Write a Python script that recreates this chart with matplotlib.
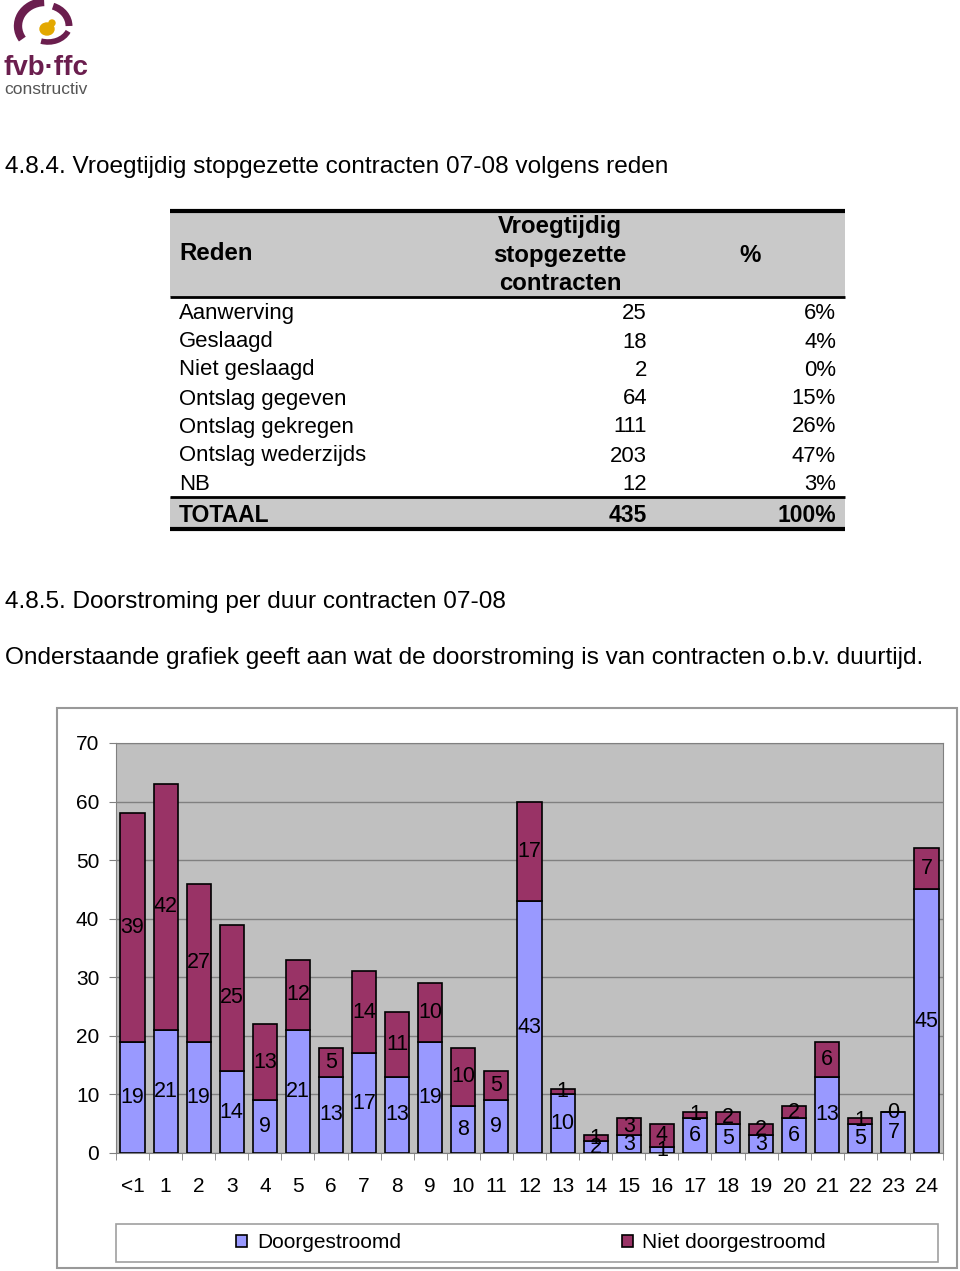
import matplotlib
matplotlib.use("Agg")
import matplotlib.pyplot as plt
from matplotlib.patches import Rectangle, Arc, Ellipse
from matplotlib.lines import Line2D
import numpy as np

plt.rcParams['font.family'] = ['Liberation Sans', 'DejaVu Sans']

# ---------------- data ----------------
table_reasons = ["Aanwerving", "Geslaagd", "Niet geslaagd", "Ontslag gegeven",
                 "Ontslag gekregen", "Ontslag wederzijds", "NB"]
table_counts = [25, 18, 2, 64, 111, 203, 12]
table_pcts = ["6%", "4%", "0%", "15%", "26%", "47%", "3%"]
table_total = 435
table_total_pct = "100%"

categories = ["<1", "1", "2", "3", "4", "5", "6", "7", "8", "9", "10", "11", "12",
              "13", "14", "15", "16", "17", "18", "19", "20", "21", "22", "23", "24"]
doorgestroomd = [19, 21, 19, 14, 9, 21, 13, 17, 13, 19, 8, 9, 43,
                 10, 2, 3, 1, 6, 5, 3, 6, 13, 5, 7, 45]
niet_doorgestroomd = [39, 42, 27, 25, 13, 12, 5, 14, 11, 10, 10, 5, 17,
                      1, 1, 3, 4, 1, 2, 2, 2, 6, 1, 0, 7]
series_names = ["Doorgestroomd", "Niet doorgestroomd"]
y_ticks = [0, 10, 20, 30, 40, 50, 60, 70]

# ---------------- layout helpers ----------------
W, H = 960, 1271
fig = plt.figure(figsize=(W / 100, H / 100), dpi=100)
fig.patch.set_facecolor("white")


def fx(x):
    return x / W


def fy(y):
    return 1 - y / H


def frect(x0, y0, x1, y1, **kw):
    r = Rectangle((fx(x0), fy(y1)), fx(x1) - fx(x0), fy(y0) - fy(y1),
                  transform=fig.transFigure, **kw)
    fig.add_artist(r)
    return r


def fline(x0, x1, y, lw, color="black"):
    fig.add_artist(Line2D([fx(x0), fx(x1)], [fy(y), fy(y)], transform=fig.transFigure,
                          lw=lw, color=color, solid_capstyle="butt"))


MAROON = "#993366"
BLUE = "#9999FF"
LOGO_M = "#6B1E4E"

# ---------------- logo ----------------
lax = fig.add_axes([fx(0), fy(58), fx(90), fy(0) - fy(58)])
lax.set_xlim(0, 90)
lax.set_ylim(58, 0)
lax.set_aspect("equal")
lax.axis("off")
cx, cy = 45, 26
lax.add_patch(Arc((cx, cy), 54, 48, theta1=150, theta2=268, lw=6, color=LOGO_M))
lax.add_patch(Arc((cx, cy), 48, 42, theta1=292, theta2=360, lw=5, color=LOGO_M))
lax.add_patch(Arc((cx + 3, cy - 2), 44, 36, theta1=20, theta2=112, lw=4, color=LOGO_M))
lax.add_patch(Ellipse((cx + 2, cy + 3), 14, 12, color="#E3A800"))
lax.add_patch(Ellipse((cx + 7, cy - 3), 6, 6, color="#E3A800"))
fig.text(fx(4), fy(68), "fvb\u00b7ffc", fontsize=20, fontweight="bold", color=LOGO_M,
         va="center", ha="left")
fig.text(fx(4), fy(89), "constructiv", fontsize=12.5, color="#555555",
         va="center", ha="left")

# ---------------- headings ----------------
FS_BODY = 17.6
fig.text(fx(5), fy(167), "4.8.4. Vroegtijdig stopgezette contracten 07-08 volgens reden",
         fontsize=FS_BODY, va="center", ha="left")
fig.text(fx(5), fy(602), "4.8.5. Doorstroming per duur contracten 07-08",
         fontsize=FS_BODY, va="center", ha="left")
fig.text(fx(5), fy(658),
         "Onderstaande grafiek geeft aan wat de doorstroming is van contracten o.b.v. duurtijd.",
         fontsize=FS_BODY, va="center", ha="left")

# ---------------- table ----------------
TX0, TX1 = 170, 845
GRAY = "#C9C9C9"
frect(TX0, 211, TX1, 297, facecolor=GRAY, edgecolor="none")
frect(TX0, 497, TX1, 528, facecolor=GRAY, edgecolor="none")
fline(TX0, TX1, 211, 3.0)
fline(TX0, TX1, 297, 2.0)
fline(TX0, TX1, 497, 2.0)
fline(TX0, TX1, 529, 3.0)

FS_T = 15.9
FS_H = 17.3
fig.text(fx(179), fy(254), "Reden", fontsize=FS_H, fontweight="bold", va="center", ha="left")
for txt, yy in zip(["Vroegtijdig", "stopgezette", "contracten"], [227, 255, 283]):
    fig.text(fx(560), fy(yy), txt, fontsize=FS_H, fontweight="bold", va="center", ha="center")
fig.text(fx(750), fy(255), "%", fontsize=FS_H, fontweight="bold", va="center", ha="center")

row_y = [313, 342, 370, 399, 427, 456, 484]
for name, cnt, pct, yy in zip(table_reasons, table_counts, table_pcts, row_y):
    fig.text(fx(179), fy(yy), name, fontsize=FS_T, va="center", ha="left")
    fig.text(fx(647), fy(yy), str(cnt), fontsize=FS_T, va="center", ha="right")
    fig.text(fx(836), fy(yy), pct, fontsize=FS_T, va="center", ha="right")
FS_TOT = 16.5
fig.text(fx(179), fy(515), "TOTAAL", fontsize=FS_TOT, fontweight="bold", va="center", ha="left")
fig.text(fx(647), fy(515), str(table_total), fontsize=FS_TOT, fontweight="bold", va="center", ha="right")
fig.text(fx(836), fy(515), table_total_pct, fontsize=FS_TOT, fontweight="bold", va="center", ha="right")

# ---------------- chart frame ----------------
frect(57, 708, 957, 1268, facecolor="white", edgecolor="#999999", lw=1.5, zorder=0)

ax = fig.add_axes([fx(116), fy(1153), fx(943) - fx(116), fy(743) - fy(1153)])
ax.set_facecolor("#C0C0C0")
x = np.arange(len(categories))
bw = 0.73
d = np.array(doorgestroomd)
n = np.array(niet_doorgestroomd)
b1 = ax.bar(x, d, bw, color=BLUE, edgecolor="black", lw=1.2, label=series_names[0], zorder=3)
b2 = ax.bar(x, n, bw, bottom=d, color=MAROON, edgecolor="black", lw=1.2,
            label=series_names[1], zorder=3)

FS_L = 15.5
for xi, dv, nv in zip(x, d, n):
    ax.text(xi, dv / 2, str(dv), ha="center", va="center", fontsize=FS_L, zorder=5)
    ax.text(xi, dv + nv / 2, str(nv), ha="center", va="center", fontsize=FS_L, zorder=5)

FS_TK = 15
ax.set_xlim(-0.5, len(categories) - 0.5)
ax.set_ylim(0, 70)
ax.set_yticks(y_ticks)
ax.set_yticklabels([str(v) for v in y_ticks])
ax.grid(axis="y", color="#808080", lw=1.0, zorder=1)
ax.set_axisbelow(True)
for s in ["top", "right", "left", "bottom"]:
    ax.spines[s].set_color("#808080")
ax.set_xticks(x)
ax.set_xticklabels(categories)
ax.set_xticks(np.arange(-0.5, len(categories)), minor=True)
ax.tick_params(axis="x", which="major", length=0, pad=17, labelsize=FS_TK)
ax.tick_params(axis="x", which="minor", length=5, color="#808080")
ax.tick_params(axis="y", length=5, color="#808080", pad=7, labelsize=FS_TK)

# legend
frect(116, 1224, 938, 1262, facecolor="white", edgecolor="#A0A0A0", lw=1.2)
fig.legend(handles=[b1, b2], labels=series_names, loc="center",
           bbox_to_anchor=(fx(531), fy(1243)), ncol=2, frameon=False,
           fontsize=FS_TK, handlelength=0.55, handleheight=0.55, handletextpad=0.45,
           columnspacing=10.6)

fig.savefig("out.png", dpi=100)
